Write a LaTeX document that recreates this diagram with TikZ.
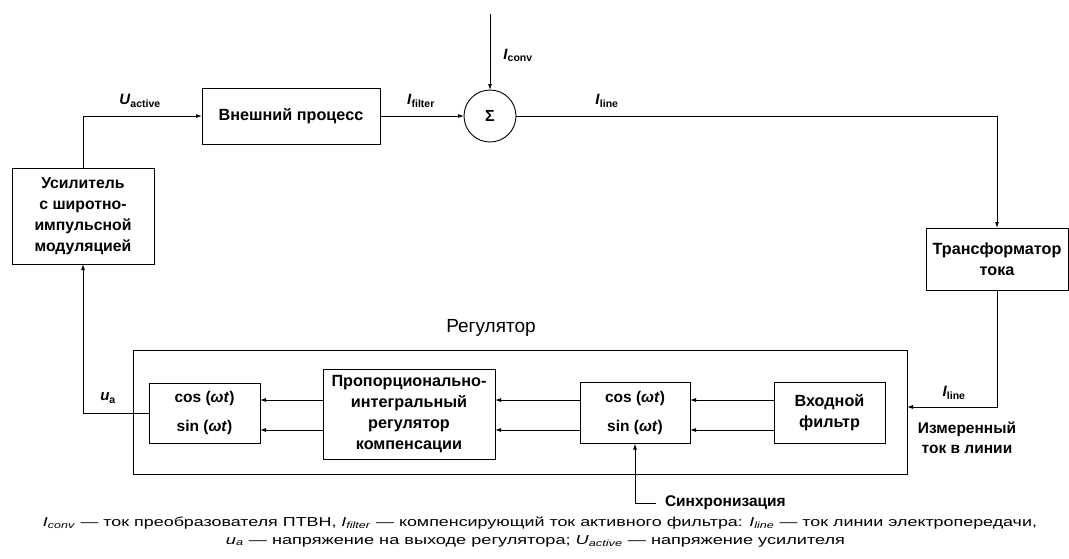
\documentclass[tikz,border=0pt]{standalone}
\usepackage{fontspec}
\setmainfont{Liberation Sans}
\usetikzlibrary{arrows.meta,calc}
\newcommand\symb[2]{\textit{#1}\textsubscript{#2}}
\newcommand\symi[2]{\textit{#1}\textsubscript{\textit{#2}}}
\begin{document}
\begin{tikzpicture}[x=1pt,y=-1pt,
  every node/.style={inner sep=0pt, outer sep=0pt},
  blk/.style={draw, line width=0.9pt, align=center,
    font=\bfseries\fontsize{16.2}{21}\selectfont},
  lbl/.style={font=\bfseries\fontsize{15}{18}\selectfont},
  arr/.style={line width=0.9pt, -{Latex[length=6pt,width=4pt]}},
  ln/.style={line width=0.9pt}]
\useasboundingbox (0,0) rectangle (1069,558);

% blocks
\node[blk, minimum width=178pt, minimum height=56pt] (ext) at (291,116) {Внешний процесс};
\node[draw, circle, line width=0.9pt, minimum size=52pt, font=\bfseries\fontsize{16}{18}\selectfont] (sum) at (490,116) {Σ};
\node[blk, minimum width=142pt, minimum height=96pt, font=\bfseries\fontsize{15.8}{21}\selectfont] (amp) at (83,216) {Усилитель\\с широтно-\\импульсной\\модуляцией};
\node[blk, minimum width=142pt, minimum height=62pt] (tr) at (997,259) {Трансформатор\\тока};
\node[draw, line width=0.9pt, minimum width=774pt, minimum height=124pt] (reg) at (520,412) {};
\node[font=\fontsize{19}{22}\selectfont] (regt) at (491,328) {Регулятор};
\node[blk, minimum width=111pt, minimum height=60pt, font=\bfseries\fontsize{15.5}{29}\selectfont] (cs1) at (204.5,413) {cos (\textit{ωt})\\sin (\textit{ωt})};
\node[blk, minimum width=172pt, minimum height=90pt] (pi) at (409,414) {Пропорционально-\\интегральный\\регулятор\\компенсации};
\node[blk, minimum width=110pt, minimum height=61pt, font=\bfseries\fontsize{15.5}{29}\selectfont] (cs2) at (635,413) {cos (\textit{ωt})\\sin (\textit{ωt})};
\node[blk, minimum width=111pt, minimum height=61pt] (flt) at (829.5,413) {Входной\\фильтр};

% helper coordinates
\coordinate (r1) at (0,400);
\coordinate (r2) at (0,430);
\coordinate (m) at (0,407);
\coordinate (ctop) at (490,14);
\coordinate (sync) at (656,503);

% connectors
\draw[arr] (amp.north) |- (ext.west);
\draw[arr] (ext.east) -- (sum.west);
\draw[arr] (ctop) -- (sum.north);
\draw[arr] (sum.east) -| (tr.north);
\draw[arr] (tr.south) |- (reg.east |- m);
\draw[arr] (flt.west |- r1) -- (cs2.east |- r1);
\draw[arr] (flt.west |- r2) -- (cs2.east |- r2);
\draw[arr] (cs2.west |- r1) -- (pi.east |- r1);
\draw[arr] (cs2.west |- r2) -- (pi.east |- r2);
\draw[arr] (pi.west |- r1) -- (cs1.east |- r1);
\draw[arr] (pi.west |- r2) -- (cs1.east |- r2);
\draw[arr] (cs1.west) -| (amp.south);
\draw[arr] (sync) -| (cs2.south);

% labels
\node[lbl] (lua) at (140,101) {\symb{U}{active}};
\node[lbl] (lif) at (421,101) {\symb{I}{filter}};
\node[lbl] (lil) at (607,101) {\symb{I}{line}};
\node[lbl] (lic) at (518,55) {\symb{I}{conv}};
\node[lbl] (lu) at (108,398) {\symb{u}{a}};
\node[lbl] (lim) at (954,393) {\symb{I}{line}};
\node[lbl, align=center, font=\bfseries\fontsize{15.5}{20}\selectfont] (meas) at (967,438) {Измеренный\\ток в линии};
\node[lbl, anchor=west, font=\bfseries\fontsize{15.5}{18}\selectfont] (synct) at ([xshift=9pt]sync) {Синхронизация};

% caption
\node[font=\fontsize{13}{16}\selectfont] (cap1) at (540,523) {\resizebox{994pt}{\height}{\symi{I}{conv} — ток преобразователя ПТВН, \symi{I}{filter} — компенсирующий ток активного фильтра: \symi{I}{line} — ток линии электропередачи,}};
\node[font=\fontsize{13}{16}\selectfont] (cap2) at (535.5,541) {\resizebox{619pt}{\height}{\symi{u}{a} — напряжение на выходе регулятора; \symi{U}{active} — напряжение усилителя}};
\end{tikzpicture}
\end{document}
